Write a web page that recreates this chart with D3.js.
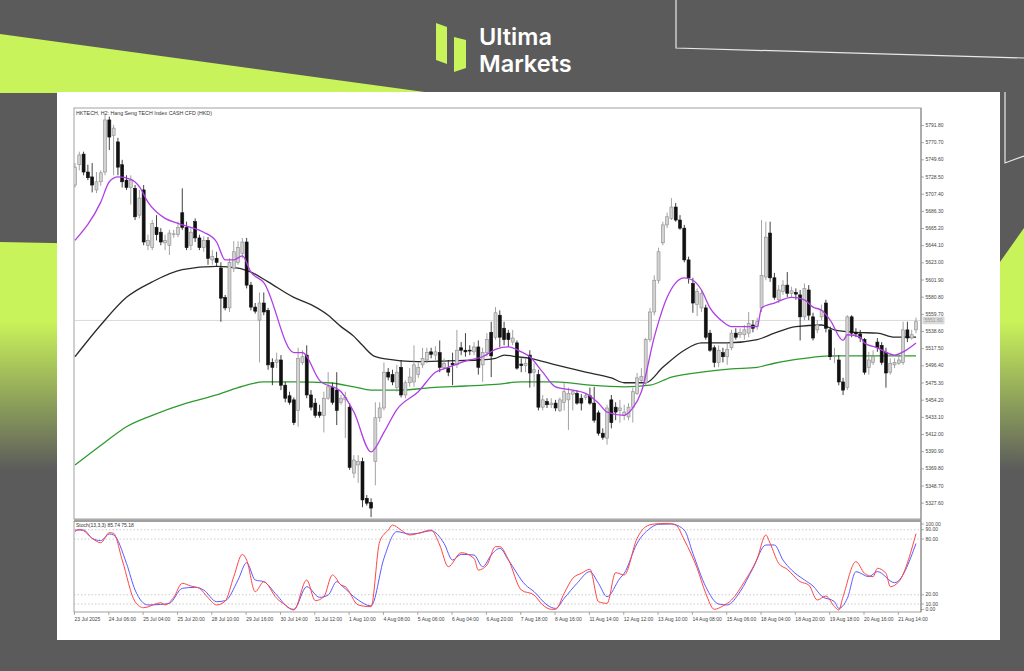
<!DOCTYPE html>
<html><head><meta charset="utf-8">
<script src="https://cdn.jsdelivr.net/npm/d3@7"></script>
<style>body{margin:0;background:#5b5b5b;overflow:hidden}svg{display:block}</style>
</head><body><svg id="c" width="1024" height="671"></svg>
<script>
// ---------- DATA ----------
const titleText = "HKTECH, H2:  Hang Seng TECH Index CASH CFD  (HKD)";
const brandLines = ["Ultima","Markets"];
const opens = [5718,5743,5756,5734,5728,5712,5722,5734,5798,5779,5771,5743,5724,5715,5714,5681,5712,5644,5641,5666,
5660,5647,5644,5657,5657,5684,5666,5644,5673,5653,5641,5650,5626,5628,5616,5580,5567,5616,5623,5634,
5648,5595,5568,5552,5573,5564,5500,5500,5503,5472,5459,5454,5441,5500,5509,5460,5450,5439,5435,5456,
5469,5466,5451,5454,5445,5364,5374,5378,5333,5328,5378,5432,5444,5488,5485,5469,5494,5460,5475,5476,
5485,5497,5503,5513,5509,5512,5494,5493,5499,5497,5518,5515,5515,5513,5519,5497,5512,5537,5531,5558,
5542,5536,5525,5524,5498,5496,5509,5488,5485,5445,5452,5448,5450,5441,5451,5454,5461,5462,5456,5457,
5459,5450,5438,5413,5407,5454,5445,5441,5435,5433,5445,5462,5478,5475,5528,5562,5601,5647,5669,5677,
5691,5675,5665,5626,5597,5571,5567,5567,5536,5518,5500,5512,5507,5518,5536,5534,5534,5536,5546,5544,
5567,5605,5659,5604,5577,5587,5595,5585,5586,5583,5556,5589,5556,5540,5556,5573,5540,5507,5503,5476,
5469,5556,5537,5535,5528,5494,5500,5525,5521,5512,5488,5497,5499,5500,5540,5530,5540];
const highs = [5745,5759,5759,5743,5745,5734,5736,5804,5802,5792,5776,5749,5730,5730,5718,5712,5718,5657,5675,5681,
5665,5657,5663,5663,5673,5714,5673,5665,5677,5657,5655,5654,5638,5636,5623,5583,5628,5649,5649,5653,
5653,5599,5573,5586,5586,5567,5505,5512,5509,5476,5464,5457,5518,5515,5521,5466,5456,5448,5464,5488,
5475,5488,5460,5464,5450,5386,5386,5383,5337,5333,5451,5451,5500,5493,5491,5497,5503,5478,5493,5521,
5500,5518,5518,5518,5520,5527,5505,5503,5512,5540,5525,5536,5521,5525,5527,5518,5536,5550,5568,5564,
5550,5540,5540,5527,5505,5505,5515,5499,5491,5460,5456,5456,5454,5457,5475,5469,5466,5466,5461,5462,
5469,5470,5441,5419,5448,5460,5451,5454,5448,5450,5469,5487,5493,5530,5567,5607,5641,5673,5684,5702,
5696,5681,5669,5630,5604,5591,5589,5571,5540,5521,5521,5518,5524,5540,5542,5542,5546,5562,5552,5555,
5675,5673,5673,5610,5595,5601,5611,5593,5591,5589,5597,5595,5561,5552,5571,5577,5544,5518,5509,5481,
5558,5558,5542,5540,5530,5513,5515,5530,5525,5518,5505,5505,5509,5550,5550,5540,5555];
const lows = [5715,5736,5730,5724,5709,5708,5717,5730,5761,5730,5730,5715,5712,5694,5675,5677,5644,5638,5638,5650,
5644,5638,5632,5653,5654,5663,5638,5638,5648,5638,5636,5620,5620,5618,5550,5564,5562,5611,5620,5628,
5591,5564,5560,5500,5558,5491,5472,5493,5466,5451,5448,5423,5421,5497,5456,5441,5432,5432,5414,5454,
5448,5423,5448,5407,5368,5358,5352,5322,5324,5310,5349,5427,5441,5478,5472,5464,5457,5456,5470,5470,
5481,5493,5499,5505,5503,5488,5491,5483,5472,5493,5509,5507,5509,5509,5485,5476,5507,5482,5528,5519,
5521,5519,5521,5491,5488,5488,5469,5470,5441,5441,5444,5444,5440,5439,5441,5417,5441,5448,5441,5454,
5448,5426,5410,5405,5399,5419,5429,5426,5429,5429,5426,5460,5476,5472,5525,5558,5597,5644,5665,5675,
5673,5663,5623,5597,5561,5557,5562,5528,5513,5494,5494,5500,5497,5515,5528,5530,5528,5531,5537,5540,
5562,5601,5599,5577,5573,5583,5580,5580,5577,5527,5552,5552,5527,5536,5552,5537,5503,5499,5472,5460,
5466,5531,5531,5525,5485,5485,5497,5513,5497,5469,5485,5493,5497,5497,5525,5528,5536];
const closes = [5740,5755,5734,5727,5718,5722,5733,5798,5777,5788,5740,5722,5715,5724,5679,5702,5648,5650,5671,5657,
5648,5650,5659,5658,5666,5666,5641,5660,5653,5641,5650,5628,5630,5623,5579,5567,5623,5636,5641,5648,
5595,5568,5563,5573,5562,5497,5494,5503,5472,5456,5451,5426,5505,5507,5460,5445,5435,5435,5456,5470,
5451,5441,5456,5457,5371,5380,5378,5331,5327,5321,5432,5444,5488,5482,5476,5488,5460,5475,5482,5497,
5494,5505,5512,5510,5513,5494,5499,5488,5497,5515,5515,5513,5514,5519,5494,5512,5528,5508,5561,5531,
5528,5528,5530,5493,5496,5499,5487,5491,5445,5454,5448,5450,5444,5454,5464,5462,5464,5450,5450,5459,
5450,5429,5413,5408,5444,5426,5439,5444,5439,5445,5464,5481,5483,5528,5562,5601,5636,5669,5679,5691,
5675,5665,5626,5604,5573,5587,5585,5531,5515,5500,5515,5507,5516,5536,5531,5537,5540,5548,5542,5550,
5607,5654,5604,5580,5589,5595,5585,5588,5584,5556,5591,5558,5530,5546,5564,5542,5507,5508,5476,5466,
5556,5536,5535,5530,5488,5503,5507,5518,5500,5487,5499,5500,5503,5540,5530,5534,5550];
const currentPrice = 5551.6;

// moving averages, sampled at bar indices
const maPurpleIdx = [0,6,8,10,13,15,17,21,24,27,30,33,35,37,39,41,44,51,53,57,62,65,69,72,75,80,84,87,92,95,98,101,104,106,109,112,116,119,122,124,128,130,132,135,138,142,144,146,148,151,153,159,160,163,167,170,172,174,176,179,180,183,184,187,191,193,196];
const maPurpleVal = [5650,5697,5722,5728,5725,5716,5697,5677,5671,5666,5660,5648,5626,5626,5631,5611,5598,5512,5512,5478,5464,5439,5390,5414,5442,5464,5488,5494,5503,5507,5516,5519,5513,5507,5488,5470,5466,5462,5450,5439,5435,5444,5464,5531,5580,5604,5601,5589,5567,5550,5544,5544,5567,5573,5580,5577,5568,5564,5552,5527,5534,5531,5524,5518,5509,5513,5524];
const maBlackIdx = [0,6,12,18,25,33,38,41,45,51,55,59,62,65,67,70,76,80,87,94,98,100,103,106,112,119,125,128,133,137,142,146,152,159,163,168,174,177,182,187,191,196];
const maBlackVal = [5507,5546,5580,5599,5614,5618,5616,5611,5599,5580,5571,5558,5544,5532,5521,5507,5502,5501,5502,5503,5505,5509,5507,5505,5497,5488,5481,5475,5475,5494,5515,5524,5524,5528,5536,5544,5546,5540,5537,5536,5531,5531];
const maGreenIdx = [0,7,12,18,26,33,38,44,51,59,65,69,76,83,91,98,104,112,120,128,134,139,146,153,159,163,170,176,185,196];
const maGreenVal = [5374,5402,5421,5435,5450,5460,5469,5476,5476,5475,5470,5466,5466,5469,5471,5473,5476,5476,5472,5470,5472,5482,5488,5492,5494,5499,5505,5508,5508,5508];

// stochastic (13,3,3)
const stochTitle = "Stoch(13,3,3) 85.74 75.18";
const kIdx = [0,1,2,4,6,8,9,11,14,16,20,21,23,25,27,29,31,33,35,37,39,40,42,44,47,49,51,54,56,58,60,62,63,66,69,71,73,74,76,78,80,83,85,87,90,93,94,96,98,99,101,104,107,109,111,112,114,116,118,120,122,124,126,128,131,133,135,138,140,142,145,147,149,151,153,156,159,161,162,164,166,169,171,173,175,177,178,179,182,184,186,187,189,190,192,196];
const kVal = [88,90.5,89,80.8,76,86.9,86.2,57.4,12.5,6,11.4,9,17.2,32.3,29.4,26.9,16.8,9,13.2,39.5,63.5,57.4,23.3,34,16.1,9,3.5,35.9,13.6,17.9,41.3,30.5,28.7,9,7.1,77.2,89.7,95.1,89.7,84.4,86.2,89.7,73.6,50.2,65.3,59.2,46.6,52,71.8,71.8,58,25.1,19.7,9,4.3,4.3,21.5,37.7,43.1,47.4,12.5,10.7,43.8,41.3,80.8,93.3,96.2,96.9,95.1,79,48.5,21.5,4.3,7.9,14.3,34.1,59.2,84.4,75.4,53.8,47.4,34.1,30.5,14.3,18.6,7.1,3.5,17.9,55.6,43.1,39.5,48.5,43.1,28.7,34.1,85.74];
const dIdx = [0,2,4,6,8,9,12,14,17,20,22,25,28,30,33,35,38,40,42,44,47,50,51,54,57,59,61,62,66,69,72,75,78,80,83,86,88,90,93,95,97,99,101,105,107,110,112,114,117,120,122,124,127,128,131,134,136,139,142,144,147,150,152,155,158,161,163,165,167,170,172,174,177,178,180,182,185,187,191,196];
const dVal = [89.7,89.7,80.8,78.3,85.4,84.4,53.8,25.1,9,9.6,10.7,26.9,28,25.1,12.5,13.6,35.9,54.5,35.9,34.1,19.7,5.3,4.3,28.7,17.2,19.7,34.1,30.5,14.3,7.9,59.2,88,85.4,86.2,89,75.4,57.4,63.5,62.8,50.2,62.8,70,57.4,30.5,23.3,9,5.3,16.1,32.3,44.9,32.3,17.9,37.7,43.1,75.4,91.5,95.9,96.2,89.7,64.6,28.7,10,9,23.3,48.5,73.6,73.6,57.4,46.6,35.9,29.4,18.6,12.5,5.3,16.1,44.9,39.5,44.9,33,75.18];
const stochLevels = [10,20,80,90];
const stochTicks = [100,90,80,20,10,0];

// axes
const priceTicks = [5791.8,5770.7,5749.6,5728.5,5707.4,5686.3,5665.2,5644.1,5623.0,5601.9,5580.8,5559.7,5538.6,5517.5,5496.4,5475.3,5454.2,5433.1,5412.0,5390.9,5369.8,5348.7,5327.6];
const timeTickBars = [0,8,16,24,32,40,48,56,64,72,80,88,96,104,112,120,128,136,144,152,160,168,176,184,192];
const timeLabels = ["23 Jul 2025","24 Jul 06:00","25 Jul 04:00","25 Jul 20:00","28 Jul 10:00","29 Jul 16:00","30 Jul 14:00","31 Jul 12:00","1 Aug 10:00","4 Aug 08:00","5 Aug 06:00","6 Aug 04:00","6 Aug 20:00","7 Aug 18:00","8 Aug 16:00","11 Aug 14:00","12 Aug 12:00","13 Aug 10:00","14 Aug 08:00","15 Aug 06:00","18 Aug 04:00","18 Aug 20:00","19 Aug 18:00","20 Aug 16:00","21 Aug 14:00"];

// ---------- DRAWING ----------
const LIME = "#c9f35a", GREY = "#5b5b5b";
const svg = d3.select("#c");
const defs = svg.append("defs");
svg.append("rect").attr("width",1024).attr("height",671).attr("fill",GREY);
const lg = defs.append("linearGradient").attr("id","lg").attr("gradientUnits","userSpaceOnUse")
  .attr("x1",0).attr("y1",230).attr("x2",0).attr("y2",470);
lg.append("stop").attr("offset",0).attr("stop-color",LIME);
lg.append("stop").attr("offset",0.38).attr("stop-color",LIME);
lg.append("stop").attr("offset",1).attr("stop-color",GREY);
svg.append("path").attr("d","M0,242 L1000,262 L1024,228 L1024,671 L0,671Z").attr("fill","url(#lg)");
svg.append("path").attr("d","M0,34 L432,93 L0,93Z").attr("fill",LIME);
svg.append("path").attr("d","M676,0 L676,48 L1024,58").attr("fill","none").attr("stroke","#e8e8e8").attr("stroke-width",1.2);
svg.append("path").attr("d","M1005,92 L1005,163 L1024,156").attr("fill","none").attr("stroke","#e8e8e8").attr("stroke-width",1.2);

// logo
svg.append("path").attr("d","M436,23 L447,27 L447,64 L436,60Z").attr("fill",LIME);
svg.append("path").attr("d","M454,37 L466,40 L466,68 L454,72Z").attr("fill",LIME);
svg.selectAll("text.brand").data(brandLines).join("text").attr("class","brand")
  .attr("x",479).attr("y",(d,i)=>45+i*26.5).text(d=>d)
  .attr("font-family","Inter, 'Open Sans', sans-serif").attr("font-weight",600).attr("font-size",23.5).attr("fill","#fff");

// white panel
svg.append("rect").attr("x",57).attr("y",92).attr("width",943).attr("height",548).attr("fill","#fff");

const L = 74, R = 921, T = 108, B = 519, ST = 521.5, SB = 612;
const x = d3.scaleLinear().domain([0,196]).range([75,916]);
const y = d3.scaleLinear().domain([5327.6,5791.8]).range([502.7,125]);
const ys = d3.scaleLinear().domain([0,100]).range([613.3,520.5]);

defs.append("clipPath").attr("id","cm").append("rect").attr("x",L).attr("y",T).attr("width",R-L).attr("height",B-T);
defs.append("clipPath").attr("id","cs").append("rect").attr("x",L).attr("y",ST).attr("width",R-L).attr("height",SB-ST);

const font = "'Liberation Sans', Arial, sans-serif";
// frames
svg.append("rect").attr("x",L).attr("y",T).attr("width",R-L).attr("height",B-T).attr("fill","none").attr("stroke","#8a8a8a").attr("stroke-width",0.8);
svg.append("rect").attr("x",L).attr("y",ST).attr("width",R-L).attr("height",SB-ST).attr("fill","none").attr("stroke","#8a8a8a").attr("stroke-width",0.8);
svg.append("line").attr("x1",L).attr("x2",R).attr("y1",520.2).attr("y2",520.2).attr("stroke","#a0a0a0").attr("stroke-width",2);

const main = svg.append("g").attr("clip-path","url(#cm)");
// price line
main.append("line").attr("x1",L).attr("x2",R).attr("y1",y(currentPrice)).attr("y2",y(currentPrice)).attr("stroke","#cfcfcf").attr("stroke-width",0.8);

// MAs
const maLine = (idx,val) => d3.line().curve(d3.curveMonotoneX).x((d,i)=>x(idx[i])).y(d=>y(d))(val);
main.append("path").attr("d",maLine(maGreenIdx,maGreenVal)).attr("fill","none").attr("stroke","#2e9a2e").attr("stroke-width",1.3);
main.append("path").attr("d",maLine(maBlackIdx,maBlackVal)).attr("fill","none").attr("stroke","#2a2a2a").attr("stroke-width",1.3);

// candles
const bars = d3.range(opens.length);
const cg = main.append("g");
cg.selectAll("line.w").data(bars).join("line").attr("class","w")
  .attr("x1",i=>x(i)).attr("x2",i=>x(i)).attr("y1",i=>y(highs[i])).attr("y2",i=>y(lows[i]))
  .attr("stroke",i=>closes[i]>=opens[i]?"#8c8c8c":"#111").attr("stroke-width",0.8);
cg.selectAll("rect.b").data(bars).join("rect").attr("class","b")
  .attr("x",i=>x(i)-1.5).attr("width",3)
  .attr("y",i=>y(Math.max(opens[i],closes[i])))
  .attr("height",i=>Math.max(0.8,Math.abs(y(opens[i])-y(closes[i]))))
  .attr("fill",i=>closes[i]>=opens[i]?"#d2d2d2":"#111")
  .attr("stroke",i=>closes[i]>=opens[i]?"#8c8c8c":"#111").attr("stroke-width",0.6);

main.append("path").attr("d",maLine(maPurpleIdx,maPurpleVal)).attr("fill","none").attr("stroke","#b03ee6").attr("stroke-width",1.3);

// title
svg.append("text").attr("x",76).attr("y",115).text(titleText).attr("font-family",font).attr("font-size",5.3).attr("fill","#333");

// price axis
const yAxis = d3.axisRight(y).tickValues(priceTicks).tickSize(3).tickPadding(1.5).tickFormat(d3.format(".2f"));
const ya = svg.append("g").attr("transform",`translate(${R},0)`).call(yAxis);
ya.select(".domain").attr("stroke","#8a8a8a").attr("d",`M0,${T}V${SB}`);
ya.selectAll(".tick line").attr("stroke","#777").attr("stroke-width",0.6);
ya.selectAll(".tick text").attr("font-family",font).attr("font-size",5).attr("fill","#444");
// price label
const pl = svg.append("g").attr("transform",`translate(${R+1.5},${y(currentPrice)})`);
pl.append("rect").attr("x",0).attr("y",-3.8).attr("width",22).attr("height",7.6).attr("fill","#d9d9d9");
pl.append("text").attr("x",2).attr("y",1.8).text(d3.format(".2f")(currentPrice)).attr("font-family",font).attr("font-size",5).attr("fill","#999");

// stochastic
const sg = svg.append("g").attr("clip-path","url(#cs)");
sg.selectAll("line.lv").data(stochLevels).join("line").attr("class","lv")
  .attr("x1",L).attr("x2",R).attr("y1",d=>ys(d)).attr("y2",d=>ys(d))
  .attr("stroke","#b5b5b5").attr("stroke-width",0.7).attr("stroke-dasharray","1.5,2");
const sLine = (idx,val) => d3.line().curve(d3.curveMonotoneX).x((d,i)=>x(idx[i])).y(d=>ys(d))(val);
sg.append("path").attr("d",sLine(dIdx,dVal)).attr("fill","none").attr("stroke","#5a5aff").attr("stroke-width",1);
sg.append("path").attr("d",sLine(kIdx,kVal)).attr("fill","none").attr("stroke","#ff4545").attr("stroke-width",1);
svg.append("text").attr("x",76).attr("y",527).text(stochTitle).attr("font-family",font).attr("font-size",5).attr("fill","#333");

const sAxis = svg.append("g").attr("transform",`translate(${R},0)`);
sAxis.selectAll("g").data(stochTicks).join("g").each(function(d){
  const yy = ys(d), ty = Math.max(524, Math.min(609.5, yy));
  const gg = d3.select(this);
  gg.append("line").attr("x1",0).attr("x2",3).attr("y1",ty).attr("y2",ty).attr("stroke","#777").attr("stroke-width",0.6);
  gg.append("text").attr("x",4.5).attr("y",ty+1.7).text(d3.format(".2f")(d)).attr("font-family",font).attr("font-size",5).attr("fill","#444");
});

// time axis
const xAxis = d3.axisBottom(x).tickValues(timeTickBars).tickSize(3).tickPadding(2)
  .tickFormat((d,i)=>timeLabels[i]);
const xa = svg.append("g").attr("transform",`translate(0,${SB})`).call(xAxis);
xa.select(".domain").remove();
xa.selectAll(".tick line").attr("stroke","#777").attr("stroke-width",0.6).attr("transform","translate(-1,0)");
xa.selectAll(".tick text").attr("text-anchor","start").attr("x",-1).attr("font-family",font).attr("font-size",5).attr("fill","#444");
</script></body></html>
